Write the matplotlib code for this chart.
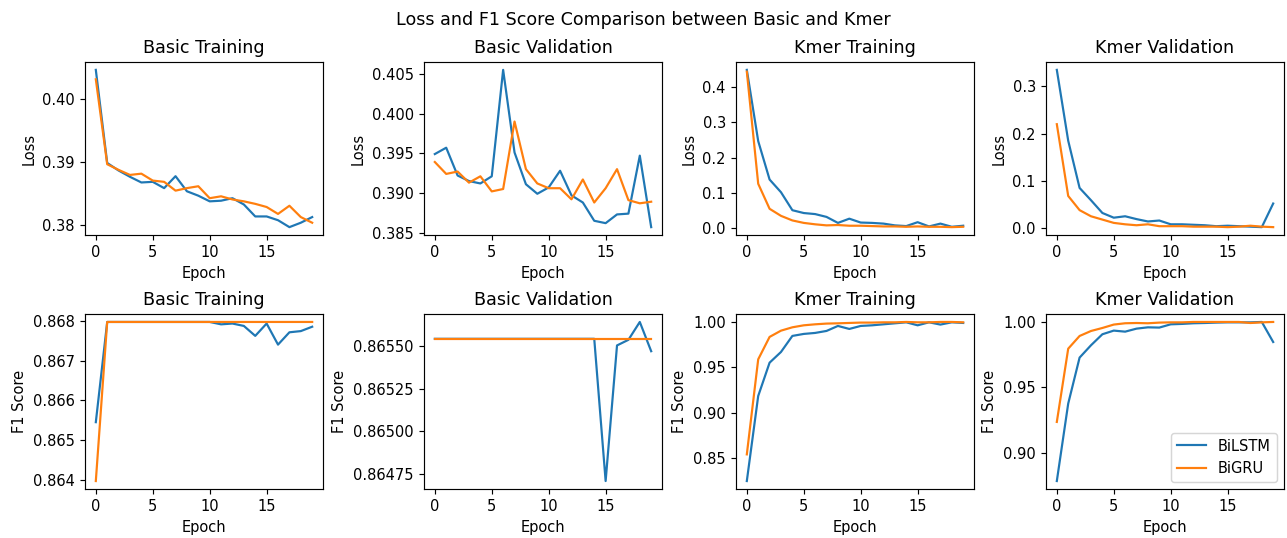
import matplotlib
matplotlib.use('Agg')
import matplotlib.pyplot as plt
import numpy as np

epochs = np.arange(20)

# loss curves
basic_train_loss_lstm = [0.4047, 0.3899, 0.3887, 0.3877, 0.3868, 0.3869, 0.3859, 0.3878, 0.3854, 0.3847,
                         0.3838, 0.3839, 0.3843, 0.3833, 0.3814, 0.3814, 0.3808, 0.3797, 0.3804, 0.3813]
basic_train_loss_gru = [0.4032, 0.3897, 0.3888, 0.3880, 0.3882, 0.3871, 0.3869, 0.3855, 0.3859, 0.3862,
                        0.3843, 0.3846, 0.3841, 0.3838, 0.3834, 0.3829, 0.3818, 0.3831, 0.3813, 0.3804]
basic_val_loss_lstm = [0.3949, 0.3957, 0.3922, 0.3915, 0.3912, 0.3921, 0.4055, 0.3951, 0.3911, 0.3899,
                       0.3907, 0.3928, 0.3897, 0.3888, 0.3865, 0.3862, 0.3873, 0.3874, 0.3947, 0.3857]
basic_val_loss_gru = [0.3939, 0.3924, 0.3927, 0.3913, 0.3921, 0.3902, 0.3905, 0.3990, 0.3930, 0.3912,
                      0.3906, 0.3906, 0.3892, 0.3917, 0.3888, 0.3906, 0.3930, 0.3891, 0.3887, 0.3889]
kmer_train_loss_lstm = [0.449, 0.247, 0.138, 0.102, 0.051, 0.043, 0.040, 0.032, 0.015, 0.027,
                        0.016, 0.015, 0.013, 0.008, 0.006, 0.017, 0.005, 0.013, 0.004, 0.007]
kmer_train_loss_gru = [0.444, 0.126, 0.055, 0.035, 0.022, 0.015, 0.011, 0.008, 0.009, 0.007,
                       0.007, 0.006, 0.005, 0.005, 0.004, 0.005, 0.004, 0.004, 0.003, 0.004]
kmer_val_loss_lstm = [0.335, 0.185, 0.085, 0.059, 0.032, 0.022, 0.025, 0.019, 0.014, 0.016,
                      0.008, 0.008, 0.007, 0.006, 0.004, 0.005, 0.004, 0.003, 0.002, 0.052]
kmer_val_loss_gru = [0.220, 0.068, 0.038, 0.025, 0.018, 0.011, 0.008, 0.006, 0.008, 0.004,
                     0.004, 0.004, 0.003, 0.003, 0.003, 0.002, 0.003, 0.005, 0.003, 0.002]

# f1 curves
basic_train_f1_lstm = [0.86545, 0.86797, 0.86797, 0.86797, 0.86797, 0.86797, 0.86797, 0.86797, 0.86797, 0.86797,
                       0.86797, 0.86791, 0.86793, 0.86787, 0.86762, 0.86793, 0.86740, 0.86771, 0.86774, 0.86785]
basic_train_f1_gru = [0.86397] + [0.86797] * 19
basic_val_f1_lstm = [0.865543] * 15 + [0.864707, 0.865504, 0.865537, 0.865642, 0.865470]
basic_val_f1_gru = [0.865543] * 20
kmer_train_f1_lstm = [0.8246, 0.9184, 0.9551, 0.9669, 0.9846, 0.9868, 0.9879, 0.9901, 0.9956, 0.9923,
                      0.9956, 0.9963, 0.9974, 0.9985, 0.9996, 0.9963, 0.9996, 0.9971, 0.9996, 0.9989]
kmer_train_f1_gru = [0.8540, 0.9588, 0.9835, 0.9904, 0.9941, 0.9963, 0.9974, 0.9982, 0.9985, 0.9989,
                     0.9993, 0.9993, 0.9996, 0.9996, 1.0000, 0.9996, 0.9996, 1.0000, 1.0000, 0.9996]
kmer_val_f1_lstm = [0.8786, 0.9377, 0.9728, 0.9822, 0.9906, 0.9934, 0.9926, 0.9949, 0.9959, 0.9957,
                    0.9982, 0.9985, 0.9990, 0.9992, 0.9995, 0.9997, 0.9997, 0.9997, 1.0000, 0.9847]
kmer_val_f1_gru = [0.9237, 0.9796, 0.9893, 0.9931, 0.9954, 0.9980, 0.9990, 0.9992, 0.9990, 0.9995,
                   0.9997, 0.9997, 1.0000, 1.0000, 1.0000, 1.0000, 1.0000, 0.9992, 0.9997, 1.0000]

titles = ['Basic Training', 'Basic Validation', 'Kmer Training', 'Kmer Validation']
loss_pairs = [(basic_train_loss_lstm, basic_train_loss_gru), (basic_val_loss_lstm, basic_val_loss_gru),
              (kmer_train_loss_lstm, kmer_train_loss_gru), (kmer_val_loss_lstm, kmer_val_loss_gru)]
f1_pairs = [(basic_train_f1_lstm, basic_train_f1_gru), (basic_val_f1_lstm, basic_val_f1_gru),
            (kmer_train_f1_lstm, kmer_train_f1_gru), (kmer_val_f1_lstm, kmer_val_f1_gru)]

W, H = 1287, 538
fig, axes = plt.subplots(2, 4, figsize=(W / 105, H / 105), dpi=105)
fig.suptitle('Loss and F1 Score Comparison between Basic and Kmer')

# panel placement in pixels: column lefts, width, row tops/bottoms
col_left = [85, 424, 736, 1046]
col_w = 238
row_top = [62, 314]
row_bot = [235, 489]

for i in range(4):
    ax = axes[0, i]
    ax.plot(epochs, loss_pairs[i][0], label='BiLSTM')
    ax.plot(epochs, loss_pairs[i][1], label='BiGRU')
    ax.set_title(titles[i])
    ax.set_xlabel('Epoch')
    ax.set_ylabel('Loss')

    ax = axes[1, i]
    ax.plot(epochs, f1_pairs[i][0], label='BiLSTM')
    ax.plot(epochs, f1_pairs[i][1], label='BiGRU')
    ax.set_title(titles[i])
    ax.set_xlabel('Epoch')
    ax.set_ylabel('F1 Score')

    for r in range(2):
        axes[r, i].set_position([col_left[i] / W, 1 - row_bot[r] / H,
                                 col_w / W, (row_bot[r] - row_top[r]) / H])

axes[0, 0].set_yticks([0.38, 0.39, 0.40])
axes[1, 1].set_yticks([0.86475, 0.86500, 0.86525, 0.86550])
axes[1, 3].set_yticks([0.90, 0.95, 1.00])
axes[1, 3].legend(loc='lower right')

plt.savefig('out.png')
